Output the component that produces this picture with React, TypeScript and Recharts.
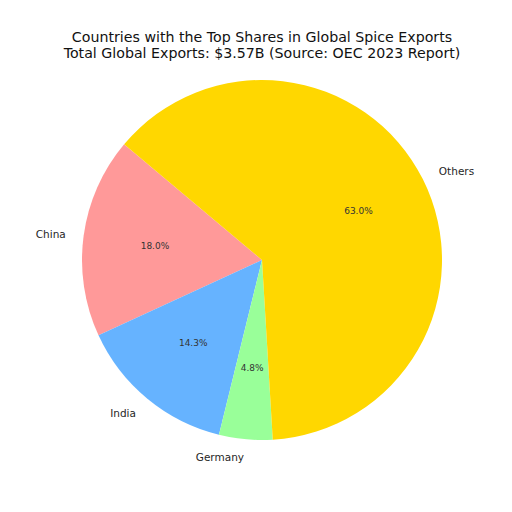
import { Pie, PieChart, Cell } from "recharts";

const countries = ["China", "India", "Germany", "Others"];
const shares = [18.0, 14.3, 4.8, 63.0];
const colors = ["#ff9999", "#66b3ff", "#99ff99", "#ffd700"];

const data = countries.map((name, i) => ({ name, value: shares[i] }));

const RAD = Math.PI / 180;

function renderLabel(props: any) {
  const { cx, cy, midAngle, outerRadius, name, value } = props;
  const cos = Math.cos(-midAngle * RAD);
  const sin = Math.sin(-midAngle * RAD);
  const lx = cx + outerRadius * 1.1 * cos;
  const ly = cy + outerRadius * 1.1 * sin;
  const px = cx + outerRadius * 0.6 * cos;
  const py = cy + outerRadius * 0.6 * sin;
  return (
    <g>
      <text
        x={lx}
        y={ly}
        textAnchor={cos < 0 ? "end" : "start"}
        dominantBaseline="central"
        fontSize={10.5}
        fill="#262626"
      >
        {name}
      </text>
      <text x={px} y={py} textAnchor="middle" dominantBaseline="central" fontSize={9} fill="#333">
        {value.toFixed(1) + "%"}
      </text>
    </g>
  );
}

export default function App() {
  return (
    <div
      style={{
        position: "absolute",
        left: 0,
        top: 0,
        width: 512,
        height: 512,
        background: "#fff",
        fontFamily: "'DejaVu Sans', sans-serif",
      }}
    >
      <div
        style={{
          position: "absolute",
          top: 29,
          left: 6,
          width: 512,
          textAlign: "center",
          fontSize: 14.2,
          lineHeight: "16px",
          color: "#111",
        }}
      >
        <div>Countries with the Top Shares in Global Spice Exports</div>
        <div>Total Global Exports: $3.57B (Source: OEC 2023 Report)</div>
      </div>
      <PieChart
        width={512}
        height={512}
        margin={{ top: 0, right: 0, bottom: 0, left: 0 }}
        style={{ position: "absolute", left: 0, top: 0 }}
      >
        <Pie
          data={data}
          dataKey="value"
          nameKey="name"
          cx={262}
          cy={260}
          outerRadius={180}
          startAngle={140}
          endAngle={500}
          stroke="none"
          label={renderLabel}
          labelLine={false}
          isAnimationActive={false}
        >
          {data.map((d, i) => (
            <Cell key={d.name} fill={colors[i]} />
          ))}
        </Pie>
      </PieChart>
    </div>
  );
}
